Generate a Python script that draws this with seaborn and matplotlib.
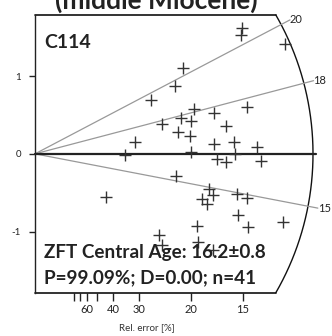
import numpy as np
import pandas as pd
import matplotlib
matplotlib.use("Agg")
import matplotlib.pyplot as plt
import seaborn as sns

# ---- data (radial plot: precision x = 1/sigma, standardised estimate y) ----
precision = [6.64, 6.60, 8.01, 4.74, 4.49, 3.72, 5.10, 6.80, 5.74, 4.07,
             4.68, 5.00, 6.12, 4.58, 4.97, 3.21, 5.74, 6.38, 7.12, 2.88,
             5.00, 6.41, 5.83, 6.12, 7.24, 4.52, 2.28, 5.58, 5.71, 5.35,
             5.51, 6.47, 6.80, 6.51, 7.95, 5.19, 6.83, 3.97, 4.07, 5.22, 5.71]
std_est = [1.62, 1.53, 1.41, 1.10, 0.87, 0.69, 0.58, 0.60, 0.53, 0.38,
           0.46, 0.42, 0.36, 0.28, 0.23, 0.15, 0.13, 0.15, 0.09, -0.01,
           0.02, 0.00, -0.07, -0.10, -0.09, -0.28, -0.55, -0.45, -0.53, -0.58,
           -0.64, -0.52, -0.57, -0.79, -0.88, -0.93, -0.94, -1.04, -1.17, -1.13, -1.24]
central_age = 16.2
ray_ages = [20, 18, 15]
rel_err_ticks = [80, 70, 60, 50, 40, 30, 20, 15]
rel_err_labels = [60, 40, 30, 20, 15]
y_ticks = [-1, 0, 1]

sample_name = "C114"
title = "(middle Miocene)"
age_text = "ZFT Central Age: 16.2±0.8"
stats_text = "P=99.09%; D=0.00; n=41"

df = pd.DataFrame({"x": precision, "y": std_est})

# ---- figure ----
sns.set_style("white")
plt.rcParams["font.family"] = ["Lato", "DejaVu Sans"]
W, H = 332, 336
fig = plt.figure(figsize=(W / 100, H / 100), dpi=100)

left_px, top_px, bot_px = 35, 15, 292.7
ax = fig.add_axes([left_px / W, (H - bot_px) / H, (W - left_px) / W, (bot_px - top_px) / H])
sx = 31.2          # px per precision unit
ymax = 1.785
sy = (bot_px - top_px) / (2 * ymax)
ax.set_xlim(0, (W - left_px) / sx)
ax.set_ylim(-ymax, ymax)

for s in ["top", "right", "bottom"]:
    ax.spines[s].set_visible(False)
ax.spines["left"].set_color("#222222")
ax.spines["left"].set_linewidth(1.0)

R = 278.0  # arc radius in px
# arc
th_max = np.arcsin(ymax * sy / R)
th = np.linspace(-th_max, th_max, 200)
ax.plot(R * np.cos(th) / sx, R * np.sin(th) / sy, color="#111111", lw=1.0, clip_on=False)
x_top = R * np.cos(th_max) / sx
ax.plot([0, x_top], [ymax, ymax], color="#111111", lw=1.2, clip_on=False)
ax.plot([0, x_top], [-ymax, -ymax], color="#111111", lw=1.2, clip_on=False)

# rays
Rr = 288.0
for t in ray_ages:
    ang = np.arctan(np.log(t / central_age) * sy / sx)
    xe, ye = Rr * np.cos(ang) / sx, Rr * np.sin(ang) / sy
    ax.plot([0, xe], [0, ye], color="#999999", lw=0.9, clip_on=False)
    ax.text(xe, ye, str(t), ha="left", va="center", fontsize=8, color="#222222", clip_on=False)

# central line
ax.plot([0, 281 / sx], [0, 0], color="#222222", lw=1.6, clip_on=False, zorder=3)

# points
sns.scatterplot(data=df, x="x", y="y", marker="+", s=80, linewidth=1.0,
                color="#333333", ax=ax, zorder=4, clip_on=False)

# y ticks
ax.set_yticks(y_ticks)
ax.set_yticklabels([str(v) for v in y_ticks])
ax.tick_params(axis="y", direction="out", length=4, width=1, colors="#222222",
               labelsize=7, pad=6, left=True)

# x ticks (relative error)
ax.set_xticks([100 / r for r in rel_err_labels])
ax.set_xticklabels([str(r) for r in rel_err_labels])
ax.set_xticks([100 / r for r in rel_err_ticks if r not in rel_err_labels], minor=True)
ax.tick_params(axis="x", which="both", direction="out", length=6, width=1,
               colors="#222222", labelsize=8, pad=2, bottom=True)
ax.set_xlabel("")
ax.set_ylabel("")

fig.text(147 / W, 1 - 328 / H, "Rel. error [%]", ha="center", va="center",
         fontsize=7, color="#333333")

# texts
fig.text(44 / W, 1 - 48 / H, sample_name, ha="left", va="baseline",
         fontsize=14, fontweight="bold", color="#222222")
fig.text(44 / W, 1 - 258 / H, age_text, ha="left", va="baseline",
         fontsize=13.6, fontweight="bold", color="#222222", zorder=10)
fig.text(44 / W, 1 - 283 / H, stats_text, ha="left", va="baseline",
         fontsize=13.6, fontweight="bold", color="#222222", zorder=10)
fig.text(156 / W, 1 - 9 / H, title, ha="center", va="baseline",
         fontsize=19, fontweight="bold", color="#222222")

fig.savefig("out.png", dpi=100)
